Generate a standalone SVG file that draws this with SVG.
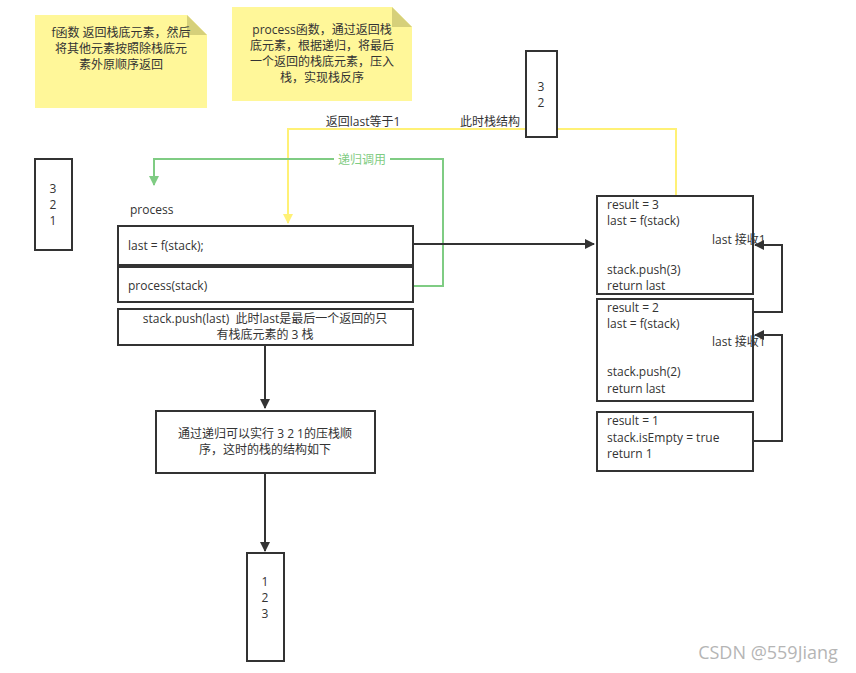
<svg xmlns="http://www.w3.org/2000/svg" width="856" height="673" viewBox="0 0 856 673">
<style>
text{font-family:"Open Sans","Noto Sans CJK SC",sans-serif;font-size:12px;fill:#333}
.c{text-anchor:middle}
.box{fill:#fff;stroke:#333;stroke-width:2}
.note{fill:#fff799;stroke:none}
.fold{fill:#d6d07a}
.dk{fill:none;stroke:#333;stroke-width:2}
</style>
<defs>
<marker id="ad" viewBox="0 0 10 10" refX="9" refY="5" markerWidth="5" markerHeight="5" orient="auto"><path d="M0,0L10,5L0,10z" fill="#333"/></marker>
<marker id="ay" viewBox="0 0 10 10" refX="9" refY="5" markerWidth="5" markerHeight="5" orient="auto"><path d="M0,0L10,5L0,10z" fill="#fff176"/></marker>
<marker id="ag" viewBox="0 0 10 10" refX="9" refY="5" markerWidth="5" markerHeight="5" orient="auto"><path d="M0,0L10,5L0,10z" fill="#7fcc83"/></marker>
</defs>
<rect width="856" height="673" fill="#fff"/>
<g id="connectors">
<path d="M676,196V129H288V223" fill="none" stroke="#fff176" stroke-width="2" marker-end="url(#ay)"/>
<path d="M413,286H443V159H154V185" fill="none" stroke="#7fcc83" stroke-width="2" marker-end="url(#ag)"/>
<rect x="334" y="151" width="56" height="16" fill="#fff"/>
<text x="362" y="164" class="c" style="fill:#7fcc83">递归调用</text>
<path d="M413,244H594" class="dk" marker-end="url(#ad)"/>
<path d="M753,312H782V245H755" class="dk" marker-end="url(#ad)"/>
<path d="M753,441H782V335H755" class="dk" marker-end="url(#ad)"/>
<path d="M265,345V408" class="dk" marker-end="url(#ad)"/>
<path d="M265,473V551" class="dk" marker-end="url(#ad)"/>
<text x="363" y="126" class="c">返回last等于1</text>
<text x="490" y="126" class="c">此时栈结构</text>
</g>
<g id="note1">
<path d="M35,15H187L207,35V108H35Z" class="note"/>
<path d="M187,15L207,35H187Z" class="fold"/>
<text x="121" y="37" class="c">f函数 返回栈底元素，然后</text>
<text x="121" y="53" class="c">将其他元素按照除栈底元</text>
<text x="121" y="69" class="c">素外原顺序返回</text>
</g>
<g id="note2">
<path d="M232,7H392L412,27V101H232Z" class="note"/>
<path d="M392,7L412,27H392Z" class="fold"/>
<text x="322" y="34" class="c">process函数，通过返回栈</text>
<text x="322" y="50" class="c">底元素，根据递归，将最后</text>
<text x="322" y="66" class="c">一个返回的栈底元素，压入</text>
<text x="322" y="82" class="c">栈，实现栈反序</text>
</g>
<g id="stack32">
<rect x="526" y="51" width="31" height="86" class="box"/>
<text x="541" y="91" class="c">3</text>
<text x="541" y="107" class="c">2</text>
</g>
<g id="stack321">
<rect x="35" y="159" width="37" height="91" class="box"/>
<text x="53" y="193" class="c">3</text>
<text x="53" y="209" class="c">2</text>
<text x="53" y="225" class="c">1</text>
</g>
<g id="processLabel">
<text x="130" y="214">process</text>
</g>
<g id="lastf">
<rect x="118" y="226" width="295" height="39" class="box"/>
<text x="128" y="250">last = f(stack);</text>
</g>
<g id="processStack">
<rect x="118" y="267" width="295" height="35" class="box"/>
<text x="128" y="290">process(stack)</text>
</g>
<g id="push">
<rect x="118" y="309" width="295" height="36" class="box"/>
<text x="265" y="323" class="c">stack.push(last)&#160; 此时last是最后一个返回的只</text>
<text x="265" y="339" class="c">有栈底元素的 3 栈</text>
</g>
<g id="note3">
<rect x="156" y="411" width="219" height="62" class="box"/>
<text x="265" y="438" class="c">通过递归可以实行 3 2 1的压栈顺</text>
<text x="265" y="454" class="c">序，这时的栈的结构如下</text>
</g>
<g id="stack123">
<rect x="247" y="553" width="37" height="108" class="box"/>
<text x="265" y="586" class="c">1</text>
<text x="265" y="602" class="c">2</text>
<text x="265" y="618" class="c">3</text>
</g>
<g id="call3">
<rect x="597" y="196" width="156" height="98" class="box"/>
<text x="607" y="209">result = 3</text>
<text x="607" y="225">last = f(stack)</text>
<text x="712" y="244">last 接收1</text>
<text x="607" y="274">stack.push(3)</text>
<text x="607" y="290">return last</text>
</g>
<g id="call2">
<rect x="597" y="299" width="156" height="102" class="box"/>
<text x="607" y="312">result = 2</text>
<text x="607" y="328">last = f(stack)</text>
<text x="712" y="346">last 接收1</text>
<text x="607" y="376">stack.push(2)</text>
<text x="607" y="393">return last</text>
</g>
<g id="call1">
<rect x="597" y="412" width="156" height="59" class="box"/>
<text x="607" y="425">result = 1</text>
<text x="607" y="442">stack.isEmpty = true</text>
<text x="607" y="458">return 1</text>
</g>
<text x="768" y="659" class="c" style="font-family:'Open Sans','Noto Sans',sans-serif;font-size:18px;fill:#b5b5b5">CSDN @559Jiang</text>
</svg>
